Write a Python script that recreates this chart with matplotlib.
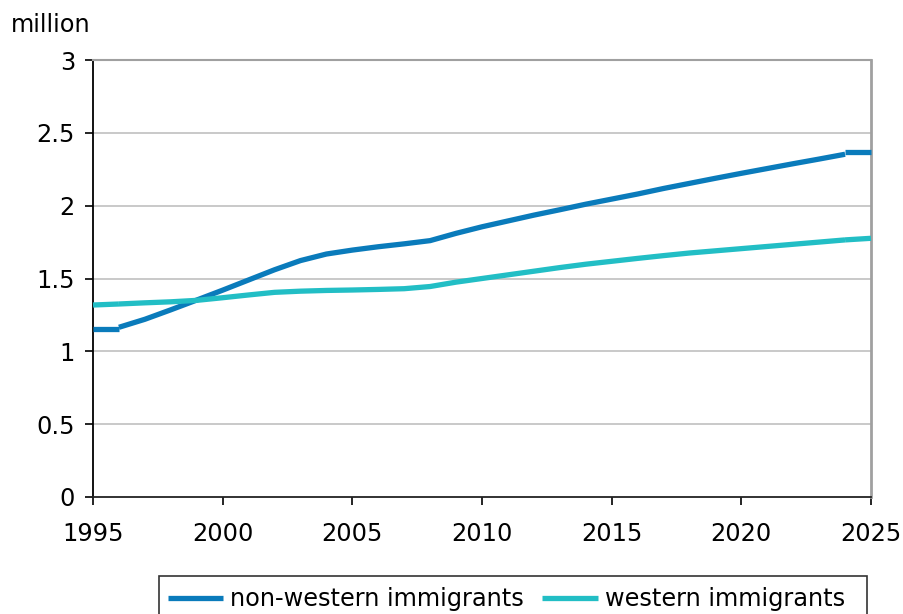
import matplotlib
matplotlib.use("Agg")
import matplotlib.pyplot as plt
from matplotlib.patches import Rectangle
from matplotlib.lines import Line2D

# ---- data (million) ----
years_main = list(range(1996, 2025))
nonwestern_main = [1.165, 1.22, 1.285, 1.352, 1.42, 1.49, 1.56, 1.623, 1.668, 1.695,
                   1.718, 1.738, 1.76, 1.81, 1.855, 1.895, 1.935, 1.972, 2.01, 2.045,
                   2.08, 2.118, 2.153, 2.188, 2.222, 2.255, 2.288, 2.32, 2.353]
western_main = [1.325, 1.333, 1.34, 1.35, 1.368, 1.387, 1.405, 1.413, 1.418, 1.421,
                1.425, 1.43, 1.445, 1.475, 1.5, 1.525, 1.55, 1.575, 1.598, 1.618,
                1.638, 1.657, 1.675, 1.69, 1.705, 1.72, 1.735, 1.75, 1.765]
years_start = [1995, 1996]
nonwestern_start = [1.15, 1.15]
western_start = [1.318, 1.325]
years_end = [2024, 2025]
nonwestern_end = [2.368, 2.368]
western_end = [1.765, 1.776]

series_labels = ["non-western immigrants", "western immigrants"]
x_ticks = [1995, 2000, 2005, 2010, 2015, 2020, 2025]
y_ticks = [0, 0.5, 1, 1.5, 2, 2.5, 3]
y_tick_labels = ["0", "0.5", "1", "1.5", "2", "2.5", "3"]

c_nw = "#0A7BBB"
c_w = "#22BEC5"
FS = 17.3

plt.rcParams['font.family'] = ['DejaVu Sans']
W, H = 904, 614
fig = plt.figure(figsize=(W / 100, H / 100), dpi=100)
ax = fig.add_axes([93 / W, (H - 497) / H, 778 / W, 437 / H])

lw = 3.8
for xs, ys in [(years_start, nonwestern_start), (years_main, nonwestern_main), (years_end, nonwestern_end)]:
    ax.plot(xs, ys, color=c_nw, lw=lw, solid_capstyle='butt', zorder=3, clip_on=False)
for xs, ys in [(years_start, western_start), (years_main, western_main), (years_end, western_end)]:
    ax.plot(xs, ys, color=c_w, lw=lw, solid_capstyle='butt', zorder=3, clip_on=False)

ax.set_xlim(1995, 2025)
ax.set_ylim(0, 3)
ax.set_xticks(x_ticks)
ax.set_xticklabels([str(v) for v in x_ticks])
ax.set_yticks(y_ticks)
ax.set_yticklabels(y_tick_labels)

for y in y_ticks[1:-1]:
    ax.axhline(y, color="#c0c0c0", lw=1.2, zorder=1)

ax.spines['left'].set_color('black')
ax.spines['left'].set_linewidth(1.3)
ax.spines['bottom'].set_color('#222222')
ax.spines['bottom'].set_linewidth(1.3)
ax.spines['right'].set_color('#a0a0a0')
ax.spines['right'].set_linewidth(2)
ax.spines['top'].set_color('#a0a0a0')
ax.spines['top'].set_linewidth(1.5)

ax.tick_params(axis='y', direction='out', length=6, width=1.2, pad=7, labelsize=FS, colors='black')
ax.tick_params(axis='x', direction='out', length=6, width=1.2, pad=12, labelsize=FS, colors='black')

fig.text(11 / W, 1 - 32 / H, "million", fontsize=FS, ha='left', va='baseline')

# legend
handles = [Line2D([], [], color=c_nw, lw=3.8, solid_capstyle='butt'),
           Line2D([], [], color=c_w, lw=3.8, solid_capstyle='butt')]
leg = fig.legend(handles, series_labels, loc='center left',
                 bbox_to_anchor=(168 / W, 1 - 599 / H), bbox_transform=fig.transFigure,
                 ncol=2, frameon=False, fontsize=FS, borderpad=0, borderaxespad=0,
                 handlelength=2.3, handletextpad=0.3, columnspacing=0.75)
rect = Rectangle((159 / W, 1 - 640 / H), (867 - 159) / W, (640 - 576) / H,
                 transform=fig.transFigure, fill=False, edgecolor='#333333', lw=1.2,
                 clip_on=False)
fig.patches.append(rect)

fig.savefig("out.png", dpi=100)
